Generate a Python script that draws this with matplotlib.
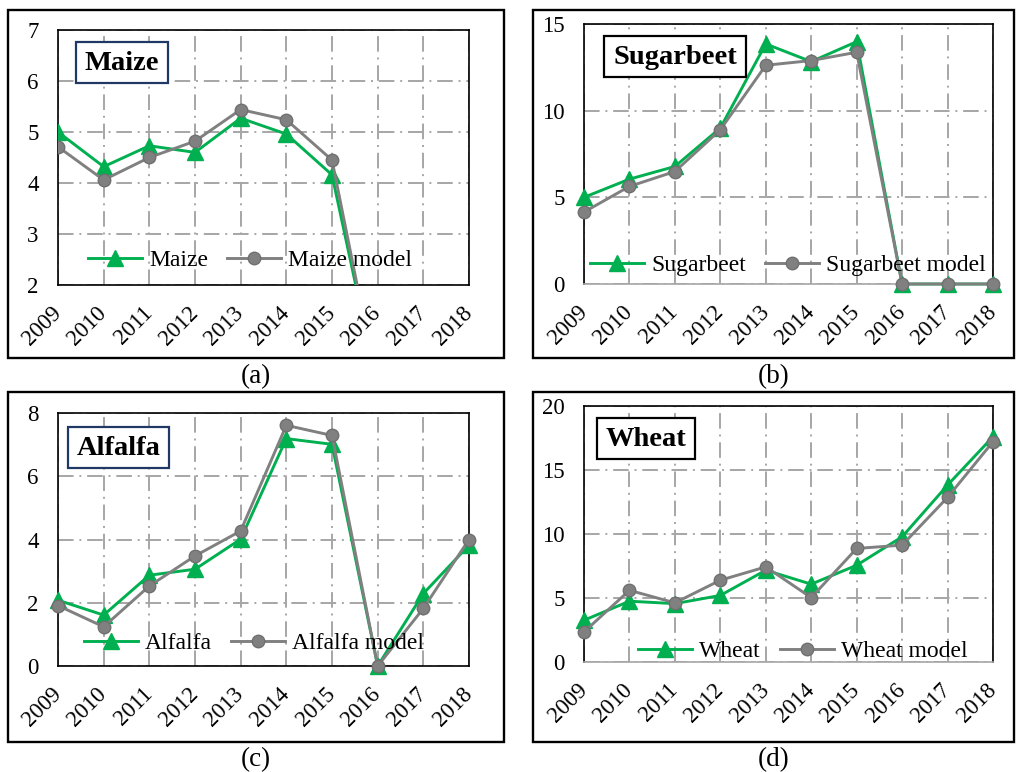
import matplotlib
matplotlib.use('Agg')
import matplotlib.pyplot as plt
from matplotlib.patches import Rectangle
import matplotlib.transforms as mtransforms

years = ['2009', '2010', '2011', '2012', '2013', '2014', '2015', '2016', '2017', '2018']

maize = [5.0, 4.32, 4.73, 4.6, 5.27, 4.96, 4.16, 0, 0, 0]
maize_model = [4.71, 4.06, 4.5, 4.82, 5.44, 5.24, 4.45, 0, 0, 0]

sugarbeet = [5.0, 6.05, 6.78, 9.0, 13.85, 12.83, 13.98, 0, 0, 0]
sugarbeet_model = [4.15, 5.63, 6.49, 8.9, 12.62, 12.89, 13.37, 0, 0, 0]

alfalfa = [2.08, 1.61, 2.87, 3.06, 4.01, 7.19, 7.01, 0, 2.29, 3.82]
alfalfa_model = [1.91, 1.24, 2.53, 3.48, 4.27, 7.61, 7.29, 0, 1.82, 4.0]

wheat = [3.26, 4.75, 4.56, 5.2, 7.17, 6.08, 7.56, 9.78, 13.82, 17.6]
wheat_model = [2.35, 5.6, 4.62, 6.39, 7.43, 5.03, 8.87, 9.13, 12.86, 17.21]

W, H = 1016, 772
plt.rcParams['font.family'] = ['Liberation Serif', 'DejaVu Serif']

fig = plt.figure(figsize=(W / 100, H / 100), dpi=100)

GREEN = '#00B050'
GRAY = '#808080'
GRID = '#A6A6A6'


def fx(x):
    return x / W


def fy(y):
    return 1 - y / H


panels = [
    dict(name='Maize', act=maize, mod=maize_model, ylim=(2, 7), yticks=[2, 3, 4, 5, 6, 7],
         box=(8, 10, 504, 358), ax=(58, 30, 469, 285), cap='(a)', capy=377,
         title=(76, 42, 168, 83), tcol='#1F3864', leg=(250, 260), clip=True, bottom='black'),
    dict(name='Sugarbeet', act=sugarbeet, mod=sugarbeet_model, ylim=(0, 15), yticks=[0, 5, 10, 15],
         box=(533, 10, 1014, 358), ax=(584, 24, 993, 284), cap='(b)', capy=377,
         title=(604, 36, 746, 77), tcol='black', leg=(788, 265), clip=False, bottom=GRID),
    dict(name='Alfalfa', act=alfalfa, mod=alfalfa_model, ylim=(0, 8), yticks=[0, 2, 4, 6, 8],
         box=(8, 392, 504, 742), ax=(58, 413, 469, 666), cap='(c)', capy=760,
         title=(68, 427, 169, 468), tcol='#1F3864', leg=(254, 643), clip=False, bottom='black'),
    dict(name='Wheat', act=wheat, mod=wheat_model, ylim=(0, 20), yticks=[0, 5, 10, 15, 20],
         box=(533, 392, 1014, 742), ax=(584, 406, 993, 662), cap='(d)', capy=760,
         title=(597, 418, 695, 459), tcol='black', leg=(803, 651), clip=False, bottom=GRID),
]

for p in panels:
    # outer frame
    bx0, by0, bx1, by1 = p['box']
    fig.patches.append(Rectangle((fx(bx0), fy(by1)), fx(bx1 - bx0), (by1 - by0) / H,
                                 transform=fig.transFigure, fill=False,
                                 edgecolor='black', linewidth=1.7, zorder=0))
    fig.text(fx((bx0 + bx1) / 2), fy(p['capy']), p['cap'], ha='center', va='center', fontsize=19.5)

    x0, y0, x1, y1 = p['ax']
    ax = fig.add_axes([fx(x0), fy(y1), fx(x1 - x0), (y1 - y0) / H])
    xs = list(range(len(years)))
    ax.plot(xs, p['act'], color=GREEN, lw=2.1, marker='^', markersize=12,
            markerfacecolor=GREEN, markeredgecolor=GREEN, label=p['name'],
            clip_on=p['clip'], zorder=3)
    ax.plot(xs, p['mod'], color=GRAY, lw=2.1, marker='o', markersize=9,
            markerfacecolor=GRAY, markeredgecolor='#707070', label=p['name'] + ' model',
            clip_on=p['clip'], zorder=4)
    ax.set_xlim(0, len(years) - 1)
    ax.set_ylim(*p['ylim'])
    ax.set_yticks(p['yticks'])
    ax.set_yticklabels([str(v) for v in p['yticks']], fontsize=16.5)
    ax.set_xticks(xs)
    ax.set_xticklabels(years, fontsize=16.5, rotation=45, ha='right', va='center',
                       rotation_mode='anchor')
    off = mtransforms.ScaledTranslation(9 / 100, 0, fig.dpi_scale_trans)
    for lab in ax.get_xticklabels():
        lab.set_transform(lab.get_transform() + off)
    ax.tick_params(axis='both', length=0)
    ax.tick_params(axis='x', pad=18)
    ax.tick_params(axis='y', pad=14)
    ax.grid(True, color=GRID, lw=1.4, linestyle=(0, (8, 3, 1, 3)))
    ax.set_axisbelow(True)
    for s in ['top', 'left', 'right']:
        ax.spines[s].set_color('black')
        ax.spines[s].set_linewidth(1.2)
    ax.spines['bottom'].set_color(p['bottom'])
    ax.spines['bottom'].set_linewidth(1.2)

    cx, cy = p['leg']
    ax.legend(loc='center', bbox_to_anchor=(fx(cx), fy(cy)), bbox_transform=fig.transFigure,
              ncol=2, frameon=False, fontsize=17, handlelength=2.3, handletextpad=0.3,
              columnspacing=0.8, borderaxespad=0, borderpad=0)

    tx0, ty0, tx1, ty1 = p['title']
    fig.patches.append(Rectangle((fx(tx0), fy(ty1)), fx(tx1 - tx0), (ty1 - ty0) / H,
                                 transform=fig.transFigure, facecolor='white',
                                 edgecolor=p['tcol'], linewidth=1.6, zorder=5))
    fig.text(fx((tx0 + tx1) / 2), fy((ty0 + ty1) / 2 + 1), p['name'], ha='center', va='center',
             fontsize=20.5, fontweight='bold', zorder=6)

fig.savefig('out.png', dpi=100)
